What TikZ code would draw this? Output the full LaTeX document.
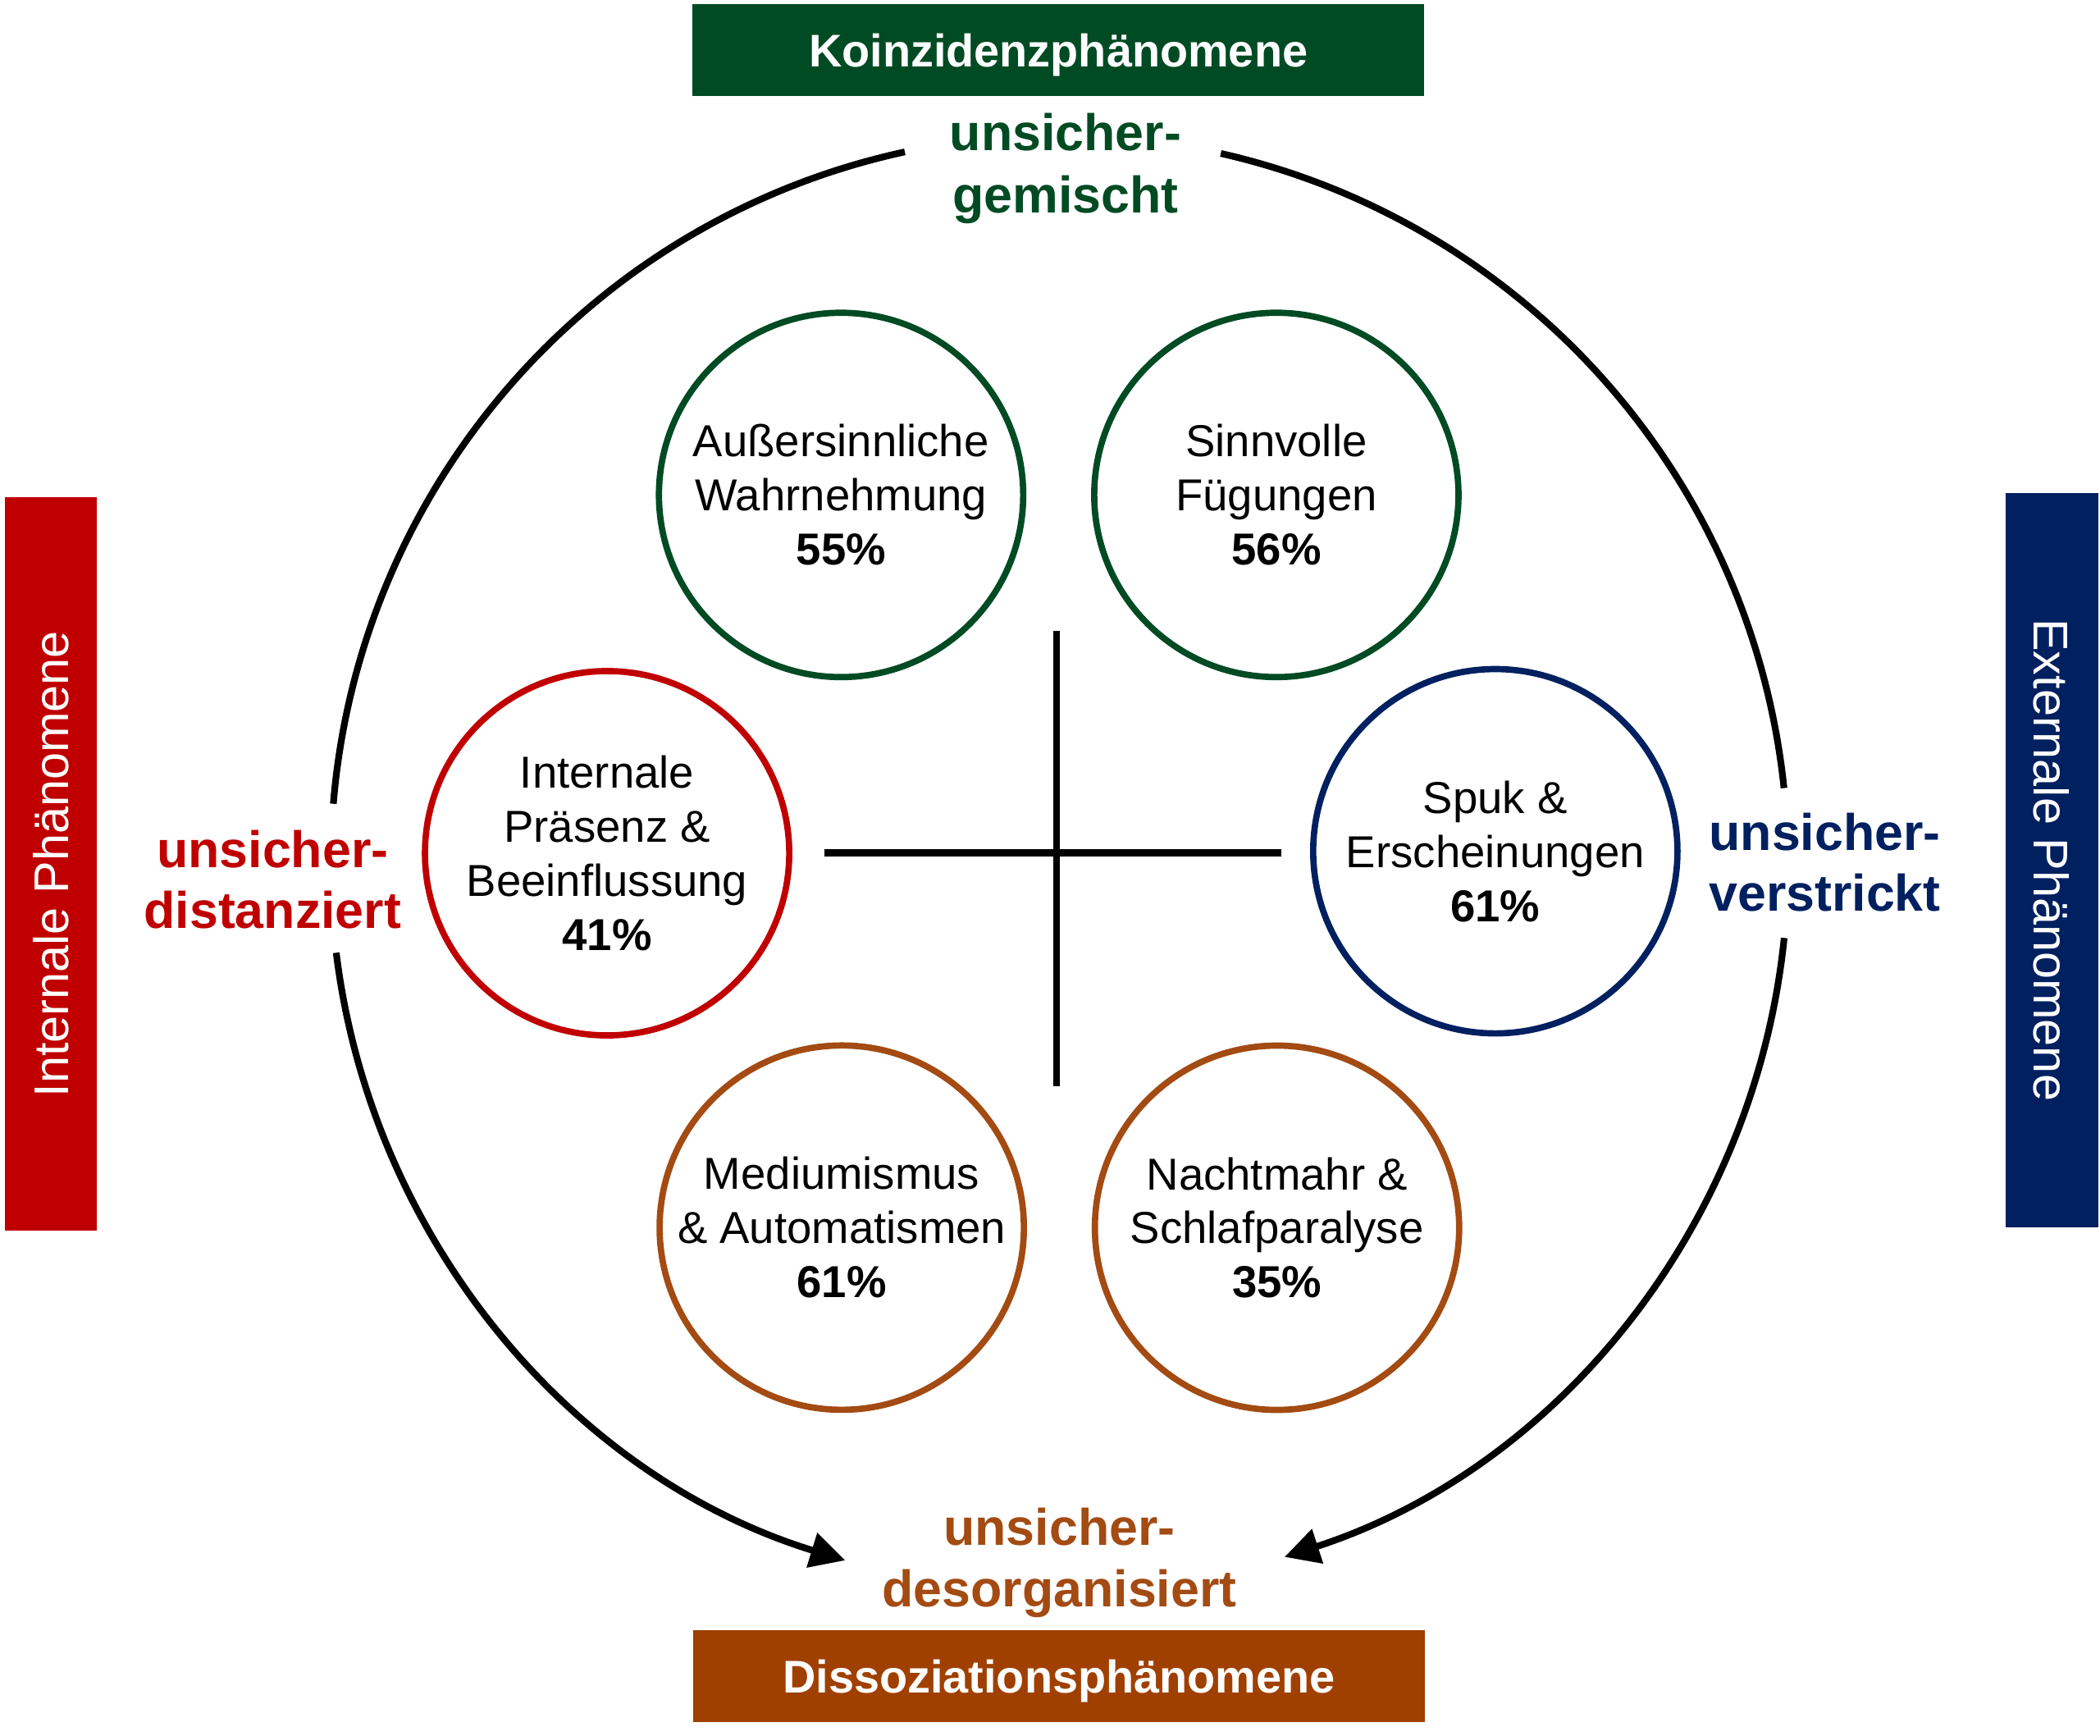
\documentclass[tikz,border=0pt]{standalone}
\usepackage{fontspec}
\setmainfont{Liberation Sans}
\usetikzlibrary{arrows.meta}
\definecolor{dgreen}{HTML}{004B23}
\definecolor{dred}{HTML}{C00000}
\definecolor{dnavy}{HTML}{002060}
\definecolor{dbrownbox}{HTML}{A04000}
\definecolor{dbrown}{HTML}{A34B12}
\begin{document}
\begin{tikzpicture}[x=0.5pt,y=0.5pt,
  phen/.style={circle, draw, line width=2.35pt, minimum size=136pt, inner sep=0pt, align=center, font=\fontsize{16.7}{20.2}\selectfont},
  lab/.style={align=center, inner sep=0pt, font=\fontsize{19.2}{23}\selectfont\bfseries},
  labside/.style={align=center, inner sep=0pt, font=\fontsize{19.2}{22.5}\selectfont\bfseries},
  hbox/.style={rectangle, minimum width=273pt, minimum height=34.2pt, inner sep=0pt, text=white, text depth=0pt, font=\fontsize{17.1}{20}\selectfont\bfseries},
  vbox/.style={rectangle, minimum width=274pt, minimum height=34.5pt, inner sep=0pt, text=white, text depth=0pt, font=\fontsize{18.2}{20}\selectfont},
  ring/.style={line width=2.5pt},
  ringarrow/.style={line width=2.5pt, -{Triangle[length=13pt,width=13pt]}},
  crossline/.style={line width=2.6pt}
]
\useasboundingbox (0,0) rectangle (1568,-1295.44);

% title boxes
\node[hbox, fill=dgreen] (koin) at (790.2,-37.3) {Koinzidenzphänomene};
\node[hbox, fill=dbrownbox] (diss) at (790.7,-1251.3) {Dissoziationsphänomene};
\node[vbox, fill=dred, rotate=90] (intern) at (38,-645) {Internale Phänomene};
\node[vbox, fill=dnavy, rotate=-90] (extern) at (1532,-642) {Externale Phänomene};

% attachment labels
\node[lab, text=dgreen] (gem) at (795.6,-125.8) {unsicher-\\gemischt};
\node[labside, text=dred] (dist) at (203.5,-656.75) {unsicher-\\distanziert};
\node[labside, text=dnavy] (verstr) at (1362.5,-643.75) {unsicher-\\verstrickt};
\node[lab, text=dbrown] (desorg) at (791,-1166.8) {unsicher-\\desorganisiert};

% phenomenon circles
\node[phen, draw=dgreen] (asw) at (628,-369.5) {Außersinnliche\\Wahrnehmung\\\textbf{55\%}};
\node[phen, draw=dgreen] (sf) at (953,-369.5) {Sinnvolle\\Fügungen\\\textbf{56\%}};
\node[phen, draw=dred] (ipb) at (453.3,-637) {Internale\\Präsenz \&\\Beeinflussung\\\textbf{41\%}};
\node[phen, draw=dnavy] (spuk) at (1116.5,-635.5) {Spuk \&\\Erscheinungen\\\textbf{61\%}};
\node[phen, draw=dbrown] (med) at (628.5,-916.5) {Mediumismus\\\& Automatismen\\\textbf{61\%}};
\node[phen, draw=dbrown] (nm) at (953.5,-916.6) {Nachtmahr \&\\Schlafparalyse\\\textbf{35\%}};

% outer ring
\coordinate (O) at (791,-645);
\draw[ring] (O) ++(175.26:544) arc[start angle=175.26, end angle=102.25, radius=544];
\draw[ring] (O) ++(77.2:544) arc[start angle=77.2, end angle=5.98, radius=544];
\draw[ringarrow] (O) ++(187.0:544) arc[start angle=187.0, end angle=252.9, radius=544];
\draw[ringarrow] (O) ++(-5.83:544) arc[start angle=-5.83, end angle=-72.0, radius=544];

% central cross
\coordinate (vt) at (789,-470.8);
\coordinate (vb) at (789,-810.7);
\coordinate (hl) at (615.3,-636.8);
\coordinate (hr) at (956.6,-636.8);
\draw[crossline] (vt) -- (vb);
\draw[crossline] (hl) -- (hr);
\end{tikzpicture}
\end{document}
